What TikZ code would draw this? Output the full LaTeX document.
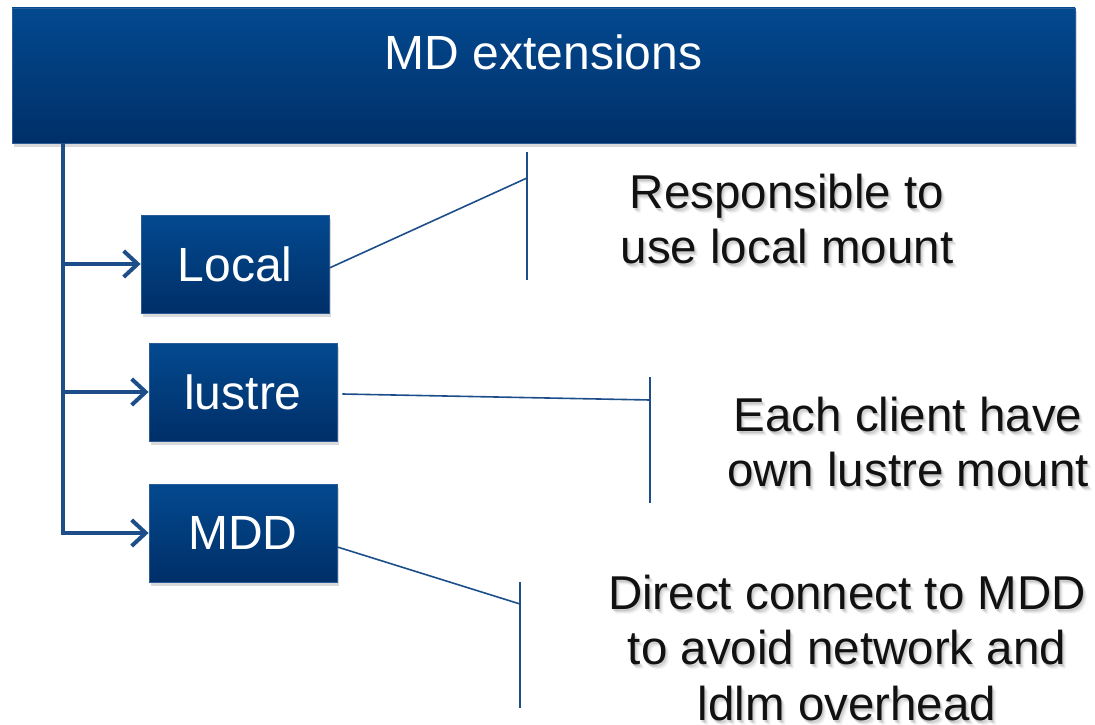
\documentclass[tikz,border=0pt]{standalone}
\usepackage{fontspec}
\setmainfont{Liberation Sans}
\usetikzlibrary{arrows.meta,shadows,calc}
\definecolor{boxtop}{HTML}{03498F}
\definecolor{boxbot}{HTML}{002F68}
\definecolor{boxedge}{HTML}{2A5C98}
\definecolor{wire}{HTML}{1D4E8A}
\definecolor{ink}{HTML}{111111}

\begin{document}
\begin{tikzpicture}[x=1pt,y=-1pt,
  bluebox/.style={rectangle, top color=boxtop, bottom color=boxbot,
    draw=boxedge, line width=0.8pt, inner sep=0pt,
    drop shadow={opacity=0.3, shadow xshift=1.5pt, shadow yshift=-3.5pt}},
  boxlabel/.style={text=white, font=\fontsize{48}{56}\selectfont, inner sep=0pt},
  notetext/.style={text=ink, align=center, inner sep=0pt,
    font=\fontsize{47.5}{55.5}\selectfont},
  noteshade/.style={notetext, text=black, opacity=#1},
  trunk/.style={draw=wire, line width=4.2pt},
  feed/.style={draw=wire, line width=4pt,
    -{Straight Barb[length=14pt, width=26pt, line width=4pt]}},
  leader/.style={draw=wire, line width=1.6pt},
]
\useasboundingbox (0,0) rectangle (1095,725);

% heading bar
\node[bluebox, minimum width=1063pt, minimum height=135pt] (title) at (543.5,75.5) {};
\node[boxlabel] (titletext) at (543.5,52) {MD extensions};

% branch boxes
\node[bluebox, minimum width=188pt, minimum height=98pt] (local)  at (235,264) {};
\node[boxlabel] (localtext) at (local.center) {Local};
\node[bluebox, minimum width=188pt, minimum height=98pt] (lustre) at (243,392) {};
\node[boxlabel] (lustretext) at (lustre.center) {lustre};
\node[bluebox, minimum width=188pt, minimum height=98pt] (mdd)    at (243,533) {};
\node[boxlabel] (mddtext) at (mdd.center) {MDD};

% trunk and feeding arrows
\coordinate (trunktop) at ($(title.south west)+(51,0)$);
\draw[trunk] (trunktop) -- (trunktop |- mdd.west);
\draw[feed] (trunktop |- local.west) -- (local.west);
\draw[feed] (trunktop |- lustre.west) -- (lustre.west);
\draw[feed] ($(trunktop |- mdd.west)+(-2,0)$) -- (mdd.west);

% callout brackets
\coordinate (b1top) at (527,152);
\coordinate (b1bot) at (527,280);
\coordinate (b1join) at (527,178);
\draw[leader] (b1top) -- (b1bot);
\draw[leader] ($(local.east)+(0,4)$) -- (b1join);

\coordinate (b2top) at (650,377);
\coordinate (b2bot) at (650,503);
\coordinate (b2join) at (650,400);
\draw[leader] (b2top) -- (b2bot);
\draw[leader] ($(lustre.east)+(5,2)$) -- (b2join);

\coordinate (b3top) at (520,582);
\coordinate (b3bot) at (520,708);
\coordinate (b3join) at (520,604);
\draw[leader] (b3top) -- (b3bot);
\draw[leader] ($(mdd.east)+(0,14)$) -- (b3join);

% callout texts with a soft shadow
\foreach \dx/\dy/\op in {1/2/0.10, 2/3/0.07, 3/4/0.05, 4/5/0.03}{
  \node[noteshade=\op] at (787+\dx,219+\dy) {Responsible to\\use local mount};
  \node[noteshade=\op] at (908+\dx,442+\dy) {Each client have\\own lustre mount};
  \node[noteshade=\op] at (847+\dx,648+\dy) {Direct connect to MDD\\to avoid network and\\ldlm overhead};
}
\node[notetext] (note1) at (787,219) {Responsible to\\use local mount};
\node[notetext] (note2) at (908,442) {Each client have\\own lustre mount};
\node[notetext] (note3) at (847,648) {Direct connect to MDD\\to avoid network and\\ldlm overhead};
\end{tikzpicture}
\end{document}
